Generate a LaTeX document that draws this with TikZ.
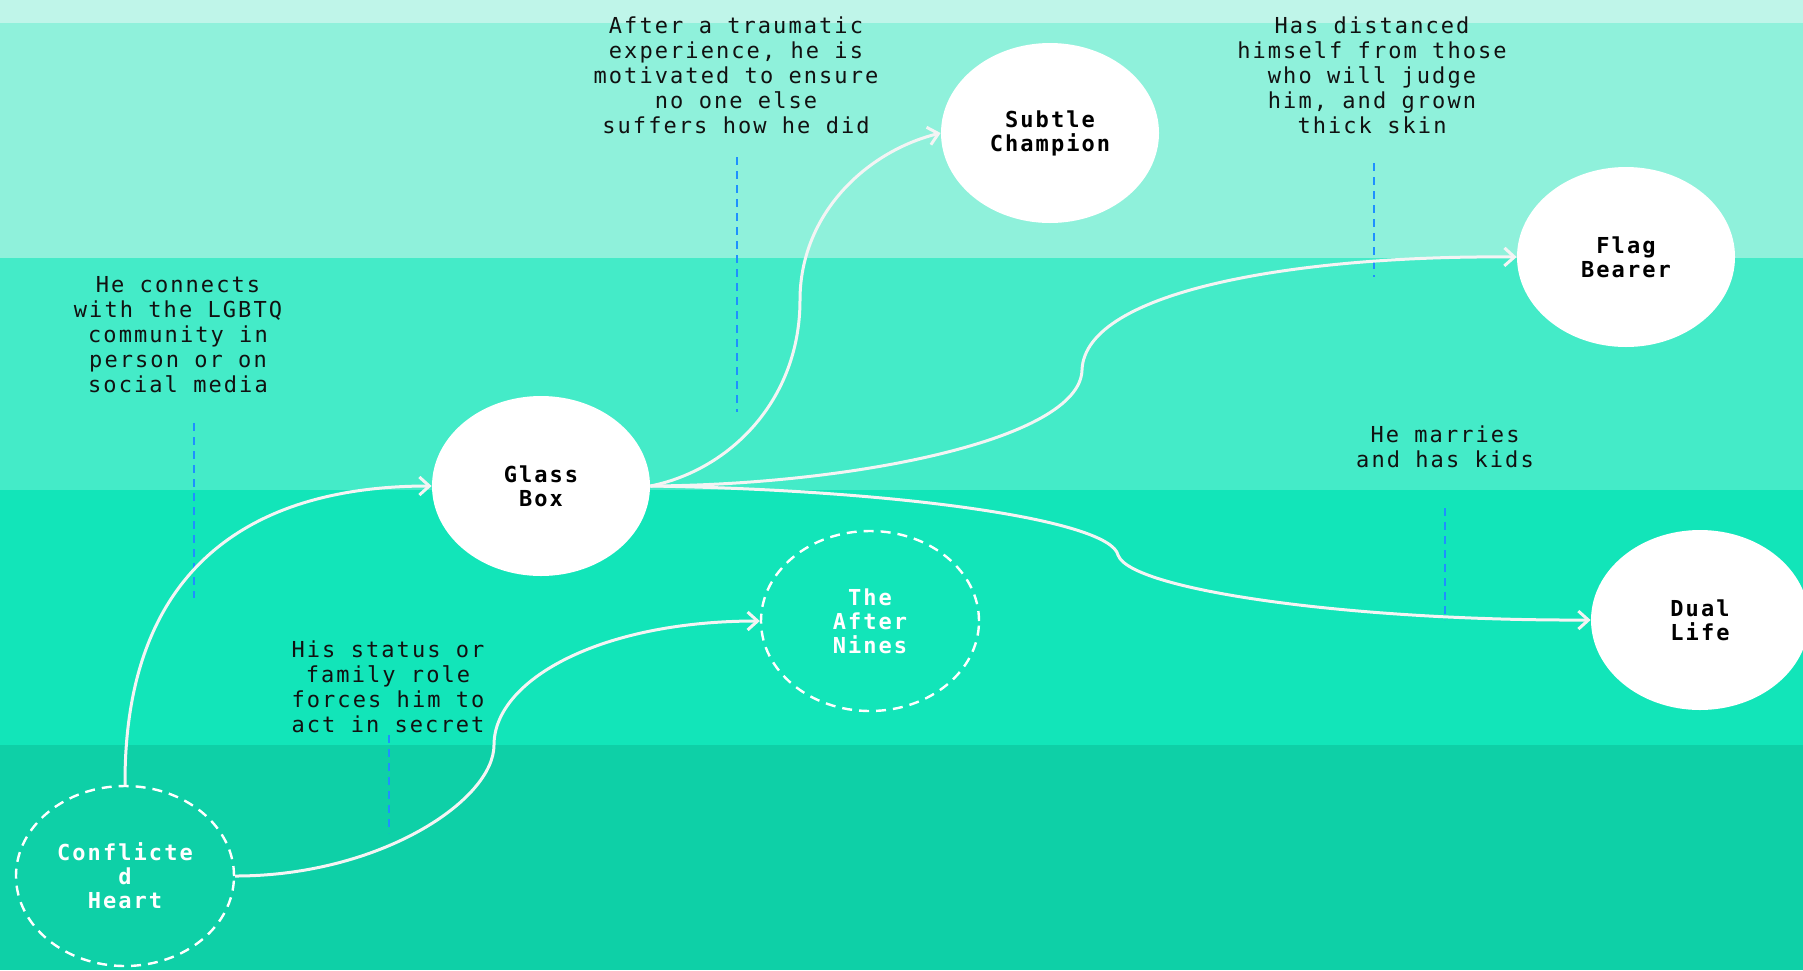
\documentclass[tikz,border=0pt]{standalone}
\usepackage{fontspec}
\usetikzlibrary{shapes.geometric,arrows.meta}
\newfontfamily\monof[LetterSpace=9.4]{DejaVu Sans Mono}
\definecolor{bandA}{HTML}{BFF5E9}
\definecolor{bandB}{HTML}{8FF1DB}
\definecolor{bandC}{HTML}{44EBC8}
\definecolor{bandD}{HTML}{12E5B9}
\definecolor{bandE}{HTML}{0ED0A7}
\definecolor{guideblue}{HTML}{1E90FF}
\definecolor{flowwhite}{HTML}{F4F4F4}
\definecolor{notetext}{HTML}{111111}
\begin{document}
\begin{tikzpicture}[x=0.5pt,y=-0.5pt,
  stnode/.style={ellipse, minimum width=109pt, minimum height=90pt, inner sep=0pt, align=center,
    font=\monof\bfseries\fontsize{11}{12}\selectfont},
  solidnode/.style={stnode, fill=white, text=black},
  ghostnode/.style={stnode, draw=white, line width=1.2pt, dash pattern=on 5pt off 3.5pt, text=white},
  note/.style={align=center, inner sep=0pt, text=notetext,
    font=\monof\fontsize{11}{12.5}\selectfont},
  flow/.style={draw=flowwhite, line width=1.5pt, -{Straight Barb[length=5pt,width=9pt]}},
  guide/.style={draw=guideblue, line width=0.9pt, dash pattern=on 4pt off 3pt}]
\useasboundingbox (0,0) rectangle (1803,970);
% background bands
\fill[bandA] (0,0) rectangle (1803,23);
\fill[bandB] (0,23) rectangle (1803,258);
\fill[bandC] (0,258) rectangle (1803,490);
\fill[bandD] (0,490) rectangle (1803,745);
\fill[bandE] (0,745) rectangle (1803,970);
% guide lines
\coordinate (g1a) at (737,157); \coordinate (g1b) at (737,412);
\coordinate (g2a) at (194,423); \coordinate (g2b) at (194,598);
\coordinate (g3a) at (389,735); \coordinate (g3b) at (389,833);
\coordinate (g4a) at (1374,163); \coordinate (g4b) at (1374,277);
\coordinate (g5a) at (1445,508); \coordinate (g5b) at (1445,620);
\draw[guide] (g1a) -- (g1b);
\draw[guide] (g2a) -- (g2b);
\draw[guide] (g3a) -- (g3b);
\draw[guide] (g4a) -- (g4b);
\draw[guide] (g5a) -- (g5b);
% notes
\node[note] (ntrauma) at (736,75) {After a traumatic\\experience, he is\\motivated to ensure\\no one else\\suffers how he did};
\node[note] (nlgbtq) at (178,335) {He connects\\with the LGBTQ\\community in\\person or on\\social media};
\node[note] (nsecret) at (388,687) {His status or\\family role\\forces him to\\act in secret};
\node[note] (ndistance) at (1372,75) {Has distanced\\himself from those\\who will judge\\him, and grown\\thick skin};
\node[note] (nmarries) at (1445,447) {He marries\\and has kids};
% state nodes
\node[ghostnode] (heart) at (125,876) {Conflicte\\d\\Heart};
\node[solidnode] (glass) at (541,486) {Glass\\Box};
\node[ghostnode] (nines) at (870,621) {The\\After\\Nines};
\node[solidnode] (subtle) at (1050,133) {Subtle\\Champion};
\node[solidnode] (flag) at (1626,257) {Flag\\Bearer};
\node[solidnode] (dual) at (1700,620) {Dual\\Life};
% connectors
\draw[flow] (heart.north) .. controls (124,560) and (260,486) .. (glass.west);
\draw[flow] (heart.east) .. controls (380,876) and (494,800) .. (494,745)
  .. controls (494,680) and (600,621) .. (nines.west);
\draw[flow] (glass.east) .. controls (730,470) and (800,400) .. (800,300)
  .. controls (800,215) and (865,152) .. (subtle.west);
\draw[flow] (glass.east) .. controls (850,485) and (1080,440) .. (1082,370)
  .. controls (1085,290) and (1300,255) .. (flag.west);
\draw[flow] (glass.east) .. controls (900,490) and (1110,520) .. (1118,555)
  .. controls (1130,590) and (1350,621) .. (dual.west);
\end{tikzpicture}
\end{document}
